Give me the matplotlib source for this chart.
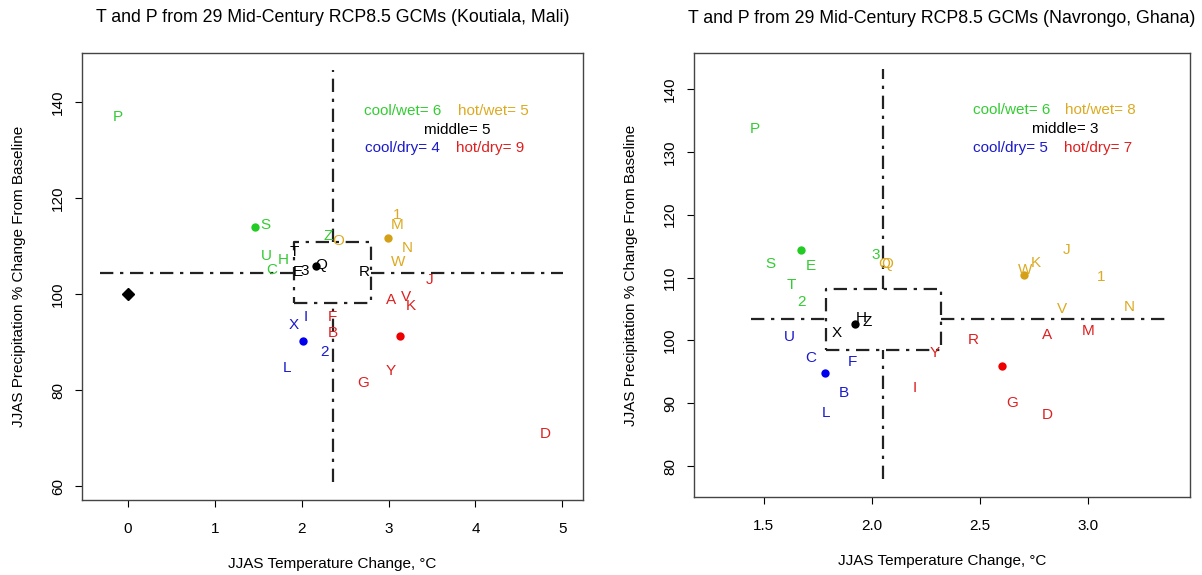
import numpy as np
import matplotlib
matplotlib.use("Agg")
import matplotlib.pyplot as plt
from matplotlib.ticker import FormatStrFormatter

plt.rcParams['font.family'] = ['Liberation Sans', 'DejaVu Sans']
FS = 11

# ---- Koutiala, Mali ----
labels_k = ['P', 'S', 'U', 'H', 'C', 'Z',
            '1', 'M', 'N', 'W', 'O',
            'T', 'E', '3', 'Q', 'R',
            'X', 'I', '2', 'L',
            'J', 'A', 'V', 'K', 'F', 'B', 'Y', 'G', 'D']
temp_k = [-0.12, 1.58, 1.59, 1.79, 1.65, 2.30,
          3.10, 3.10, 3.21, 3.11, 2.42,
          1.92, 1.95, 2.03, 2.22, 2.72,
          1.91, 2.05, 2.26, 1.83,
          3.47, 3.03, 3.20, 3.26, 2.35, 2.36, 3.02, 2.71, 4.80]
prec_k = [136.9, 114.4, 107.9, 107.1, 105.0, 112.1,
          116.5, 114.4, 109.6, 106.7, 111.0,
          108.8, 104.6, 104.8, 106.0, 104.6,
          93.5, 95.2, 87.9, 84.6,
          102.9, 98.8, 99.4, 97.5, 95.2, 91.9, 84.0, 81.5, 70.8]
group_k = ['cw', 'cw', 'cw', 'cw', 'cw', 'cw',
           'hw', 'hw', 'hw', 'hw', 'hw',
           'mid', 'mid', 'mid', 'mid', 'mid',
           'cd', 'cd', 'cd', 'cd',
           'hd', 'hd', 'hd', 'hd', 'hd', 'hd', 'hd', 'hd', 'hd']
box_t_k = [1.91, 2.80]
box_p_k = [98.1, 110.8]
line_t_k = [-0.32, 5.01]
line_p_k = [60.8, 146.7]

# ---- Navrongo, Ghana ----
labels_n = ['P', 'S', 'E', 'T', '2', '3',
            'O', 'Q', 'W', 'K', 'J', '1', 'V', 'N',
            'X', 'H', 'Z',
            'U', 'C', 'F', 'B', 'L',
            'Y', 'I', 'R', 'A', 'M', 'G', 'D']
temp_n = [1.458, 1.532, 1.72, 1.63, 1.676, 2.02,
          2.06, 2.07, 2.71, 2.76, 2.90, 3.06, 2.88, 3.19,
          1.84, 1.95, 1.98,
          1.62, 1.72, 1.91, 1.87, 1.79,
          2.29, 2.20, 2.47, 2.81, 3.00, 2.65, 2.81]
prec_n = [133.7, 112.2, 111.8, 108.8, 106.1, 113.6,
          112.2, 112.2, 111.2, 112.3, 114.4, 110.1, 105.0, 105.3,
          101.2, 103.6, 102.9,
          100.5, 97.2, 96.6, 91.6, 88.4,
          98.0, 92.4, 100.1, 100.9, 101.5, 90.0, 88.1]
group_n = ['cw', 'cw', 'cw', 'cw', 'cw', 'cw',
           'hw', 'hw', 'hw', 'hw', 'hw', 'hw', 'hw', 'hw',
           'mid', 'mid', 'mid',
           'cd', 'cd', 'cd', 'cd', 'cd',
           'hd', 'hd', 'hd', 'hd', 'hd', 'hd', 'hd']
box_t_n = [1.787, 2.32]
box_p_n = [98.5, 108.2]
line_t_n = [1.44, 3.37]
line_p_n = [77.9, 143.2]

baseline = (0, 100)

colors = {'cw': '#33cc33', 'hw': '#dcaa22', 'mid': 'black', 'cd': '#1a1acc', 'hd': '#dd2020'}
dotcol = {'cw': '#22cc22', 'hw': '#d4a017', 'mid': 'black', 'cd': '#0000ee', 'hd': '#ee0000'}
names = {'cw': 'cool/wet', 'hw': 'hot/wet', 'mid': 'middle', 'cd': 'cool/dry', 'hd': 'hot/dry'}
# legend text positions (axes fraction)
legpos = {'cw': (0.64, 0.871), 'hw': (0.82, 0.871), 'mid': (0.748, 0.828),
          'cd': (0.639, 0.787), 'hd': (0.815, 0.787)}

dash = (0, (6, 3, 1.5, 3))


def panel(ax, labels, temp, prec, group, box_t, box_p, line_t, line_p, title):
    temp = np.array(temp)
    prec = np.array(prec)
    group = np.array(group)
    ct = np.mean(box_t)
    cp = np.mean(box_p)
    kw = dict(color='#222222', lw=1.6, linestyle=dash)
    # cross lines stopping at the box
    ax.plot([ct, ct], [line_p[0], box_p[0]], **kw)
    ax.plot([ct, ct], [box_p[1], line_p[1]], **kw)
    ax.plot([line_t[0], box_t[0]], [cp, cp], **kw)
    ax.plot([box_t[1], line_t[1]], [cp, cp], **kw)
    ax.plot([box_t[0], box_t[1], box_t[1], box_t[0], box_t[0]],
            [box_p[0], box_p[0], box_p[1], box_p[1], box_p[0]], **kw)
    for g in ['cw', 'hw', 'mid', 'cd', 'hd']:
        m = group == g
        ax.plot(temp[m].mean(), prec[m].mean(), 'o', color=dotcol[g], ms=6, mec='none')
        ax.text(legpos[g][0], legpos[g][1], names[g] + '= ' + str(m.sum()),
                color=colors[g], fontsize=FS, ha='center', va='center',
                transform=ax.transAxes)
    for lab, t, p, g in zip(labels, temp, prec, group):
        ax.text(t, p, lab, color=colors[g], fontsize=FS, ha='center', va='center')
    ax.set_title(title, fontsize=12.8, pad=22)
    ax.set_xlabel('JJAS Temperature Change, °C', fontsize=FS, labelpad=15)
    ax.set_ylabel('JJAS Precipitation % Change From Baseline', fontsize=FS, labelpad=18)
    ax.tick_params(direction='out', length=5, width=0.8, labelsize=FS)
    ax.tick_params(axis='x', pad=11)
    ax.tick_params(axis='y', pad=7)
    for s in ax.spines.values():
        s.set_color('#444444')
        s.set_linewidth(1.0)


fig = plt.figure(figsize=(12.02, 5.75), dpi=100)
ax1 = fig.add_axes([0.0682, 0.130, 0.417, 0.778])
ax2 = fig.add_axes([0.577, 0.1357, 0.413, 0.772])

panel(ax1, labels_k, temp_k, prec_k, group_k, box_t_k, box_p_k, line_t_k, line_p_k,
      'T and P from 29 Mid-Century RCP8.5 GCMs (Koutiala, Mali)')
ax1.plot(baseline[0], baseline[1], 'D', color='black', ms=6)
ax1.set_xlim(-0.53, 5.24)
ax1.set_ylim(57.1, 150.2)
ax1.set_xticks([0, 1, 2, 3, 4, 5])
ax1.set_yticks([60, 80, 100, 120, 140])

panel(ax2, labels_n, temp_n, prec_n, group_n, box_t_n, box_p_n, line_t_n, line_p_n,
      'T and P from 29 Mid-Century RCP8.5 GCMs (Navrongo, Ghana)')
ax2.set_xlim(1.176, 3.472)
ax2.set_ylim(75.1, 145.7)
ax2.set_xticks([1.5, 2.0, 2.5, 3.0])
ax2.set_yticks([80, 90, 100, 110, 120, 130, 140])
ax2.xaxis.set_major_formatter(FormatStrFormatter('%.1f'))

for ax in (ax1, ax2):
    for lbl in ax.get_yticklabels():
        lbl.set_rotation(90)
        lbl.set_va('center')

fig.savefig('out.png', dpi=100)
